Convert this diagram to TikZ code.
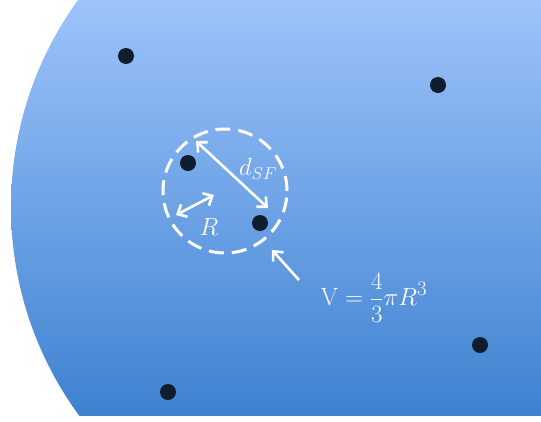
\documentclass[tikz,border=0pt]{standalone}
\usetikzlibrary{arrows.meta}
\definecolor{bluetop}{HTML}{9DC3FB}
\definecolor{bluemid}{HTML}{7CACEF}
\definecolor{bluebot}{HTML}{3E82D0}
\definecolor{dotc}{HTML}{0F1D2E}
\begin{document}
\begin{tikzpicture}[x=1pt,y=-1pt,
  particle/.style={circle,fill=dotc,minimum size=16pt,inner sep=0pt},
  zonestyle/.style={circle,draw=white,line width=3pt,dash pattern=on 15pt off 8pt,minimum size=124pt,inner sep=0pt},
  dblarrow/.style={draw=white,line width=2.6pt,{Straight Barb[length=7.5pt,width=14pt]}-{Straight Barb[length=7.5pt,width=14pt]}},
  onearrow/.style={draw=white,line width=2.6pt,-{Straight Barb[length=7.5pt,width=14pt]}},
  lbl/.style={text=white,inner sep=0pt}]
\useasboundingbox (0,0) rectangle (541,421);
\begin{scope}
  \clip (364,207) circle[radius=353pt];
  \shade[top color=bluetop, middle color=bluemid, bottom color=bluebot] (0,0) rectangle (541,415);
\end{scope}
% particles
\node[particle] (p1) at (126,56) {};
\node[particle] (p2) at (438,85) {};
\node[particle] (p3) at (188,163) {};
\node[particle] (p4) at (260,223) {};
\node[particle] (p5) at (480,345) {};
\node[particle] (p6) at (168,392) {};
% sphere of influence
\node[zonestyle] (zone) at (225,191) {};
% arrows
\coordinate (dA) at (196,141);
\coordinate (dB) at (268,208);
\draw[dblarrow] (dA) -- (dB);
\coordinate (rA) at (176,215);
\coordinate (rB) at (214,195);
\draw[dblarrow] (rA) -- (rB);
\coordinate (vA) at (299,280);
\coordinate (vB) at (272,250);
\draw[onearrow] (vA) -- (vB);
% labels
\node[lbl,font=\fontsize{24}{28}\selectfont] (dsf) at (258,169) {$d_{SF}$};
\node[lbl,font=\fontsize{28}{32}\selectfont] (rl) at (209,227) {$R$};
\node[lbl,font=\fontsize{27.5}{32}\selectfont] (vol) at (374,298) {$\displaystyle\mathrm{V}=\frac{4}{3}\pi R^{3}$};
\end{tikzpicture}
\end{document}
